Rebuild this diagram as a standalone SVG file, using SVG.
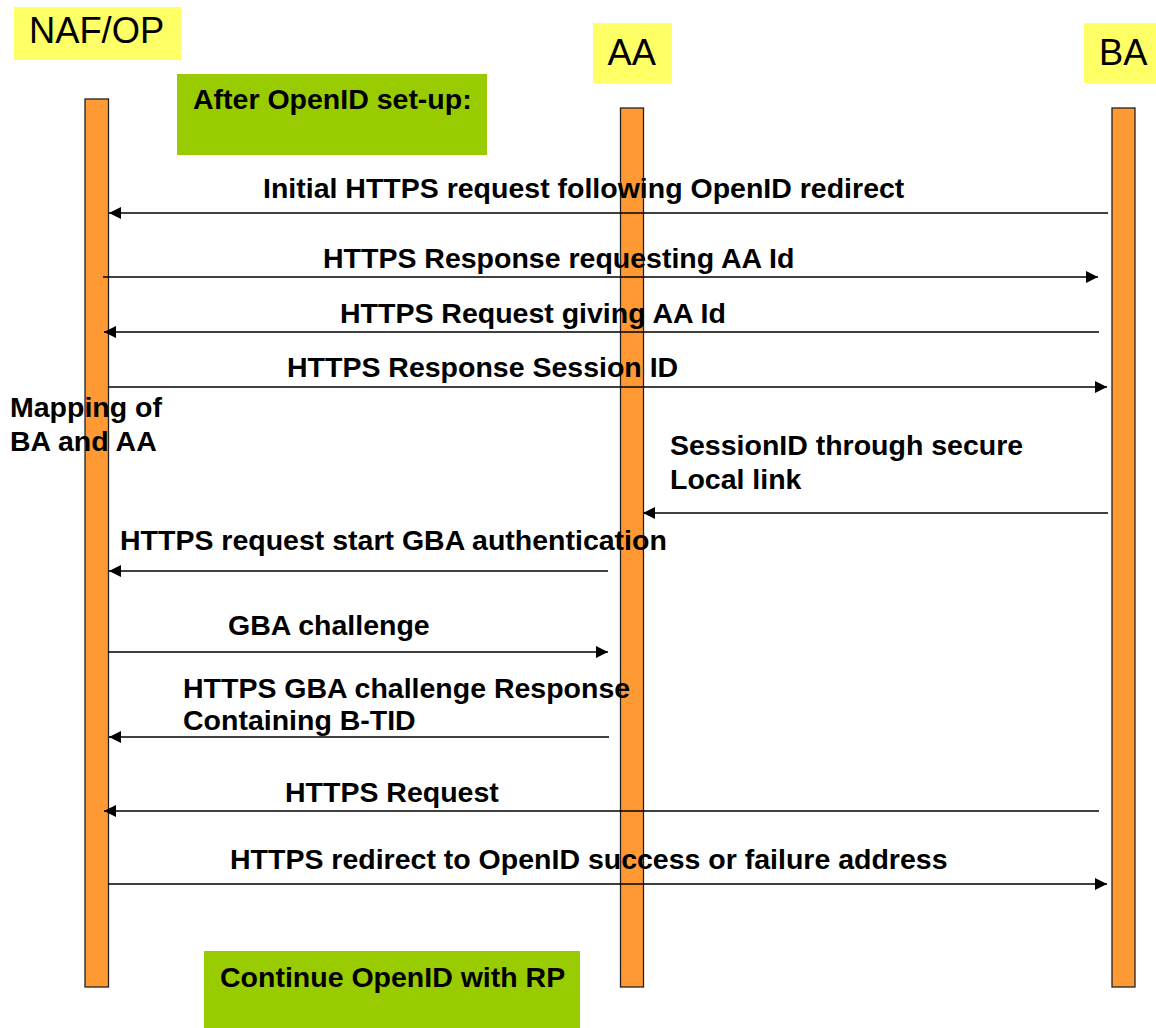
<svg xmlns="http://www.w3.org/2000/svg" width="1156" height="1028" viewBox="0 0 1156 1028">
<style>
.hdr{fill:#FFFF66}
.hdrt{font-family:"Liberation Sans",Arial,sans-serif;font-size:36.3px;fill:#000}
.life{fill:#FF9933;stroke:#222;stroke-width:1.3}
.note{fill:#99CC00}
.lbl{font-family:"Liberation Sans",Arial,sans-serif;font-size:28.5px;font-weight:bold;fill:#000}
.msg{stroke:#000;stroke-width:1.7;fill:none;marker-end:url(#ah)}
</style>
<defs>
<marker id="ah" markerUnits="userSpaceOnUse" markerWidth="12" markerHeight="12" refX="12" refY="6" orient="auto">
<path d="M0,0 L12,6 L0,12 z" fill="#000"/>
</marker>
</defs>
<rect width="1156" height="1028" fill="#fff"/>
<g id="naf-op">
<rect class="hdr" x="14" y="7" width="167" height="53"/>
<text class="hdrt" x="29" y="43">NAF/OP</text>
<rect class="life" x="85" y="99" width="23.5" height="888"/>
</g>
<g id="aa">
<rect class="hdr" x="593" y="23" width="79" height="60"/>
<text class="hdrt" x="607.5" y="65">AA</text>
<rect class="life" x="620.5" y="108" width="23" height="879"/>
</g>
<g id="ba">
<rect class="hdr" x="1084" y="23" width="72" height="60"/>
<text class="hdrt" x="1099" y="65">BA</text>
<rect class="life" x="1112" y="108" width="23" height="879"/>
</g>
<g id="note-setup">
<rect class="note" x="177" y="74" width="310" height="81"/>
<text class="lbl" x="193" y="109">After OpenID set-up:</text>
</g>
<g id="note-continue">
<rect class="note" x="204" y="951" width="376" height="77"/>
<text class="lbl" x="220" y="987">Continue OpenID with RP</text>
</g>
<g id="mapping">
<text class="lbl" x="10" y="417">Mapping of</text>
<text class="lbl" x="10" y="451">BA and AA</text>
</g>
<g id="connectors">
<line class="msg" x1="1108" y1="213" x2="109" y2="213"/>
<text class="lbl" x="263" y="198">Initial HTTPS request following OpenID redirect</text>
<line class="msg" x1="103" y1="277" x2="1098" y2="277"/>
<text class="lbl" x="323" y="268">HTTPS Response requesting AA Id</text>
<line class="msg" x1="1099" y1="332" x2="104" y2="332"/>
<text class="lbl" x="340" y="323">HTTPS Request giving AA Id</text>
<line class="msg" x1="108" y1="387" x2="1107" y2="387"/>
<text class="lbl" x="287" y="377">HTTPS Response Session ID</text>
<line class="msg" x1="1108" y1="513" x2="643" y2="513"/>
<text class="lbl" x="670" y="455">SessionID through secure</text>
<text class="lbl" x="670" y="489">Local link</text>
<line class="msg" x1="608" y1="571" x2="109" y2="571"/>
<text class="lbl" x="120" y="550">HTTPS request start GBA authentication</text>
<line class="msg" x1="108" y1="652" x2="608" y2="652"/>
<text class="lbl" x="228" y="635">GBA challenge</text>
<line class="msg" x1="609" y1="737" x2="109" y2="737"/>
<text class="lbl" x="183" y="698">HTTPS GBA challenge Response</text>
<text class="lbl" x="183" y="730">Containing B-TID</text>
<line class="msg" x1="1099" y1="811" x2="104" y2="811"/>
<text class="lbl" x="285" y="802">HTTPS Request</text>
<line class="msg" x1="108" y1="884" x2="1107" y2="884"/>
<text class="lbl" x="230" y="869">HTTPS redirect to OpenID success or failure address</text>
</g>
</svg>
